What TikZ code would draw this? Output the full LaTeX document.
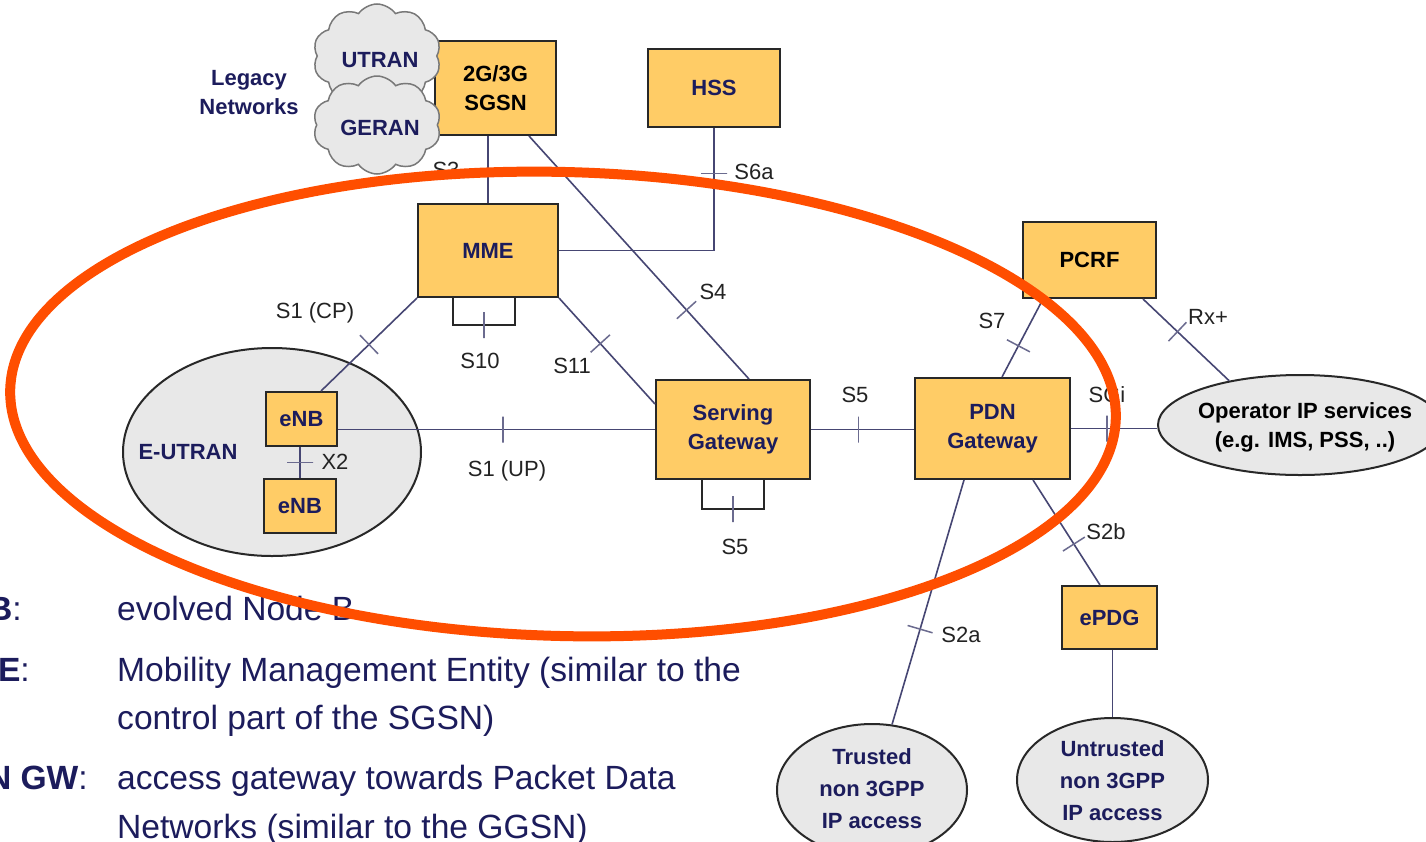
\documentclass[tikz,border=0pt]{standalone}
\usepackage{fontspec}
\setmainfont{Liberation Sans}
\usetikzlibrary{shapes.geometric,shapes.symbols,calc}
\definecolor{boxfill}{RGB}{255,204,102}
\definecolor{navy}{RGB}{28,28,92}
\definecolor{connc}{RGB}{70,70,115}
\definecolor{edgec}{RGB}{40,40,40}
\definecolor{grayfill}{RGB}{232,232,232}
\definecolor{orangec}{RGB}{255,78,0}
\definecolor{labc}{RGB}{35,35,35}
\definecolor{cloudedge}{RGB}{120,120,120}
\begin{document}
\begin{tikzpicture}[x=1pt,y=-1pt,
 lab/.style={font=\fontsize{22}{29}\selectfont\bfseries, align=center, inner sep=0pt},
 box/.style={lab, draw=edgec, line width=2pt, fill=boxfill, text=navy},
 oval/.style={ellipse, draw=edgec, line width=2pt, fill=grayfill, inner sep=0pt},
 cloudy/.style={cloud, cloud puffs=10, cloud puff arc=110, draw=cloudedge, line width=1.5pt, fill=grayfill, inner sep=0pt},
 conn/.style={draw=connc, line width=1.6pt},
 loopline/.style={draw=edgec, line width=1.8pt},
 tick/.style={rectangle, sloped, draw=connc!80, line width=1.5pt, minimum width=0pt, minimum height=26pt, inner sep=0pt, outer sep=0pt},
 ilabel/.style={font=\fontsize{22}{26}\selectfont, text=labc, inner sep=0pt},
 bottomtext/.style={font=\fontsize{33.6}{49}\selectfont, text=navy, inner sep=0pt}
]
\useasboundingbox (0,0) rectangle (1426,841);
\fill[white] (0,0) rectangle (1426,841);
\clip (0,0) rectangle (1426,841);

% legacy part
\node[box, minimum width=121pt, minimum height=94pt, text=black] (sgsn) at (495.5,88) {2G/3G\\SGSN};
\node[cloudy, minimum width=128pt, minimum height=104pt] (utran) at (377,56) {};
\node[cloudy, minimum width=128pt, minimum height=98pt] (geran) at (377,125) {};
\node[lab, text=navy] (utrant) at (380,60) {UTRAN};
\node[lab, text=navy] (gerant) at (380,128) {GERAN};
\node[lab, text=navy] (legacy) at (249,93) {Legacy\\Networks};

% core boxes
\node[box, minimum width=132pt, minimum height=78pt] (hss) at (714,88) {HSS};
\node[box, minimum width=140pt, minimum height=93pt] (mme) at (488,250.5) {MME};
\node[box, minimum width=154pt, minimum height=99pt] (sgw) at (733,429.5) {Serving\\Gateway};
\node[box, minimum width=155pt, minimum height=101pt] (pdn) at (992.5,428.5) {PDN\\Gateway};
\node[box, minimum width=133pt, minimum height=76pt, text=black] (pcrf) at (1089.5,260) {PCRF};
\node[box, minimum width=95pt, minimum height=63pt] (epdg) at (1109.5,617.5) {ePDG};

% E-UTRAN
\node[oval, minimum width=298pt, minimum height=208pt] (eutran) at (272,452) {};
\node[lab, text=navy] (eutrant) at (188,452) {E-UTRAN};
\node[box, minimum width=71pt, minimum height=54pt] (enb1) at (301.5,419) {eNB};
\node[box, minimum width=72pt, minimum height=54pt] (enb2) at (300,506) {eNB};

% ellipses
\node[oval, minimum width=284pt, minimum height=100pt] (op) at (1300,425) {};
\node[lab, text=black] (opt) at (1305,427) {Operator IP services\\(e.g. IMS, PSS, ..)};
\node[oval, minimum width=190pt, minimum height=132pt] (trusted) at (872,790) {};
\node[lab, text=navy, font=\fontsize{22}{32}\selectfont\bfseries] (trustedt) at (872,789) {Trusted\\non 3GPP\\IP access};
\node[oval, minimum width=191pt, minimum height=124pt] (untrusted) at (1112.5,780) {};
\node[lab, text=navy, font=\fontsize{22}{32}\selectfont\bfseries] (untrustedt) at (1112.5,781) {Untrusted\\non 3GPP\\IP access};

% connectors
\draw[conn] (mme.north |- sgsn.south) -- node[tick, pos=0.54]{} (mme.north);
\draw[conn] (hss.south) -- node[tick, pos=0.37]{} (hss.south |- mme.east) -- (mme.east);
\draw[conn] ($(sgsn.south east)+(-28,0)$) -- node[tick, pos=0.716]{} ($(sgw.north west)+(94,0)$);
\draw[conn] (mme.south east) -- node[tick, pos=0.43]{} ($(sgw.north west)+(0,25)$);
\draw[conn] (mme.south west) -- node[tick, pos=0.5]{} ($(enb1.north west)+(56,0)$);
\draw[conn] (sgw.west) -- node[tick, pos=0.48]{} (sgw.west -| enb1.east);
\draw[conn] (sgw.east) -- node[tick, pos=0.46]{} (pdn.west |- sgw.east);
\draw[loopline] ($(mme.south)+(-35,0)$) -- ++(0,27) -- node[tick]{} ++(62,0) -- ++(0,-27);
\draw[loopline] ($(sgw.south)+(-31,0)$) -- ++(0,29) -- node[tick]{} ++(62,0) -- ++(0,-29);
\draw[conn] ($(pdn.north west)+(88,0)$) -- node[tick, pos=0.4]{} ($(pcrf.south west)+(21,0)$);
\draw[conn] ($(pcrf.south west)+(121,0)$) -- node[tick, pos=0.4]{} (op.148);
\draw[conn] (pdn.east) -- node[tick, pos=0.42]{} (pdn.east -| op.west);
\draw[conn] ($(pdn.south west)+(50,0)$) -- node[tick, pos=0.61]{} (trusted.73);
\draw[conn] ($(pdn.south west)+(119,0)$) -- node[tick, pos=0.61]{} ($(epdg.north west)+(39,0)$);
\draw[conn] (untrusted.north) -- (untrusted.north |- epdg.south);
\draw[conn] (enb2.north) -- node[tick, pos=0.5]{} (enb2.north |- enb1.south);

% interface labels
\node[ilabel] (ls3) at (446,170) {S3};
\node[ilabel] (ls6a) at (754,172) {S6a};
\node[ilabel] (ls4) at (713,292) {S4};
\node[ilabel] (ls1cp) at (315,313) {S1 (CP)};
\node[ilabel] (ls10) at (480,361) {S10};
\node[ilabel] (ls11) at (572,366) {S11};
\node[ilabel] (ls1up) at (507,471) {S1 (UP)};
\node[ilabel] (lx2) at (335,462) {X2};
\node[ilabel] (ls5a) at (855,395) {S5};
\node[ilabel] (ls5b) at (735,547) {S5};
\node[ilabel] (ls7) at (992,321) {S7};
\node[ilabel] (lrx) at (1208,317) {Rx+};
\node[ilabel] (lsgi) at (1107,395) {SGi};
\node[ilabel] (ls2b) at (1106,532) {S2b};
\node[ilabel] (ls2a) at (961,635) {S2a};

% bottom text
\node[bottomtext, anchor=base east] (k1) at (22,620) {\textbf{eNB}:};
\node[bottomtext, anchor=base west] (d1) at (117,620) {evolved Node B};
\node[bottomtext, anchor=base east] (k2) at (30,681) {\textbf{MME}:};
\node[bottomtext, anchor=base west] (d2) at (117,681) {Mobility Management Entity (similar to the};
\node[bottomtext, anchor=base west] (d3) at (117,729) {control part of the SGSN)};
\node[bottomtext, anchor=base east] (k3) at (88,789) {\textbf{PDN GW}:};
\node[bottomtext, anchor=base west] (d4) at (117,789) {access gateway towards Packet Data};
\node[bottomtext, anchor=base west] (d5) at (117,838) {Networks (similar to the GGSN)};

% orange highlight
\draw[orangec, line width=10pt, rotate around={-1.5:(563,404)}] (563,404) ellipse [x radius=553pt, y radius=232pt];
\end{tikzpicture}
\end{document}
